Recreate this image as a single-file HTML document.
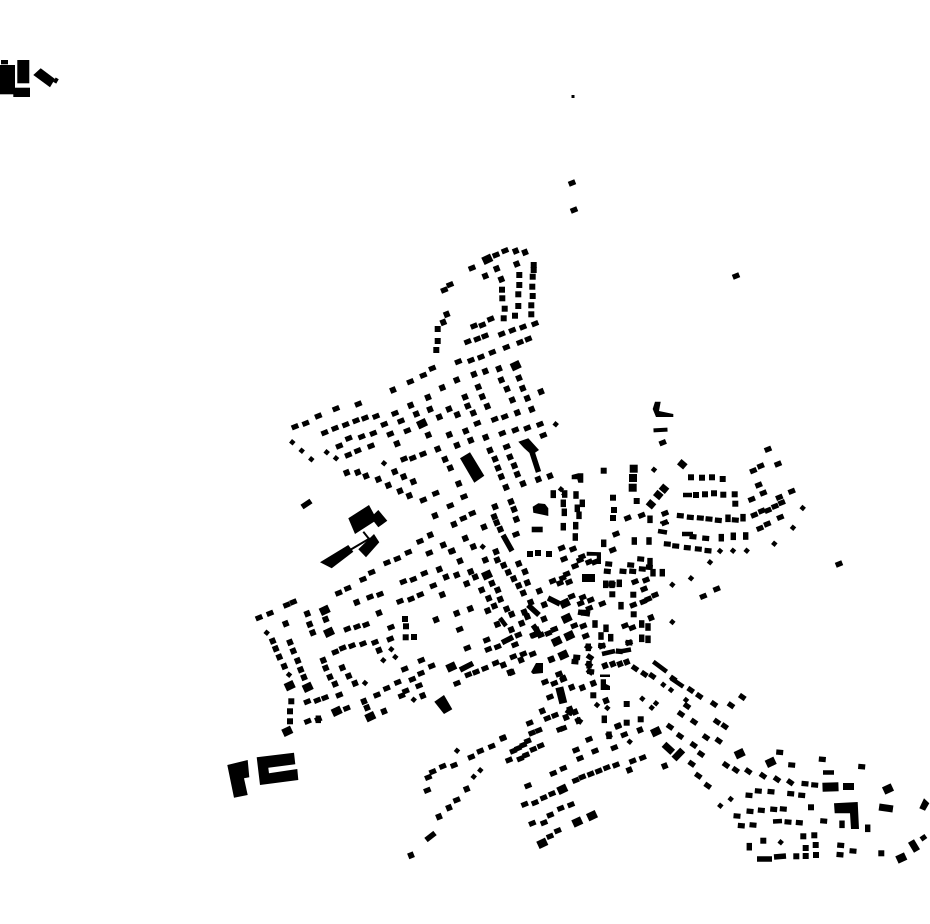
<!DOCTYPE html>
<html><head><meta charset="utf-8"><style>html,body{margin:0;padding:0;background:#fff}svg{display:block}polyline{fill:none;stroke:none}</style></head><body>
<svg width="930" height="924" viewBox="0 0 930 924" xmlns="http://www.w3.org/2000/svg">
<defs>
<marker id="a" orient="-22" markerUnits="userSpaceOnUse" markerWidth="12" markerHeight="12" refX="6" refY="6" overflow="visible"><rect x="2.5" y="3.4" width="7" height="5.2"/></marker>
<marker id="c" orient="-22" markerUnits="userSpaceOnUse" markerWidth="12" markerHeight="12" refX="6" refY="6" overflow="visible"><rect x="3" y="3" width="6" height="6"/></marker>
<marker id="s" orient="40" markerUnits="userSpaceOnUse" markerWidth="12" markerHeight="12" refX="6" refY="6" overflow="visible"><rect x="3.7" y="3.7" width="4.6" height="4.6"/></marker>
<marker id="b" orient="35" markerUnits="userSpaceOnUse" markerWidth="12" markerHeight="12" refX="6" refY="6" overflow="visible"><rect x="2.5" y="3.4" width="7" height="5.2"/></marker>
<marker id="e" orient="5" markerUnits="userSpaceOnUse" markerWidth="12" markerHeight="12" refX="6" refY="6" overflow="visible"><rect x="2.5" y="3.4" width="7" height="5.2"/></marker>
<marker id="v" orient="0" markerUnits="userSpaceOnUse" markerWidth="12" markerHeight="12" refX="6" refY="6" overflow="visible"><rect x="3.3" y="2.2" width="5.4" height="7.6"/></marker>
<marker id="q" orient="0" markerUnits="userSpaceOnUse" markerWidth="12" markerHeight="12" refX="6" refY="6" overflow="visible"><rect x="3" y="3" width="6" height="6"/></marker>
<marker id="l" orient="-25" markerUnits="userSpaceOnUse" markerWidth="16" markerHeight="16" refX="8" refY="8" overflow="visible"><rect x="3.2" y="4" width="9.6" height="8"/></marker>
<marker id="k" orient="40" markerUnits="userSpaceOnUse" markerWidth="16" markerHeight="16" refX="8" refY="8" overflow="visible"><rect x="4" y="4.5" width="8" height="7"/></marker>
<marker id="m" orient="0" markerUnits="userSpaceOnUse" markerWidth="16" markerHeight="16" refX="8" refY="8" overflow="visible"><rect x="4" y="4" width="8" height="8"/></marker>
</defs>

<polyline marker-start="url(#q)" marker-mid="url(#q)" marker-end="url(#q)" points="533.7,265 533.7,270 519.3,275 532.7,276.7 519.3,285 532.3,286.7 502,289.7 518.3,294.3 532.7,296 502.3,298.3 518.3,306 531.3,305.3 504.7,308.7 515,315.7 531.3,314.3 503.7,318.3 437.7,341 436.3,350 437.7,329 291.3,701.3 290,711.3 290,721.3 405,619 406,626.3 405.7,637.3 414,637 613,497.7 614,510 613,518 636.7,501 603.7,470.7 612.3,594.3 633.3,594.7 633.7,614.3 584,612.7 691,477.3 702,477.7 712,477.3 722.7,479 696,495 705,494.3 714,493.3 723.3,494.7 734.7,494.3 735.3,503.7 626.7,704 626.7,722.7 640.7,719.3 593.3,695.3 881.3,853.3 805.7,856 816,855 796.3,856.3 805.7,848 815.7,845 803.3,836.3 814.3,835.3 763.3,840.7 811,807.3 530,554 538,553 549,554"/>

<polyline marker-start="url(#a)" marker-mid="url(#a)" marker-end="url(#a)" points="472,268 487,259 496,255 505,250.7 450,284.7 444.3,290 432.3,368.3 423.3,375.3 410.3,381.7 458.3,361.7 471,360.3 481,357 492.3,352.3 506.3,347.3 520,342.3 528.3,339 512.3,330.3 501.7,334 485,336 477.3,339 467.7,341.7 535,323.7 523,327 490.7,319 482.3,325 474,326 358.3,404 336,408.7 318.3,416 305.7,423.3 295,426.7 376,416.3 365,418 356,420.7 345.7,424.7 335,428.3 324.7,432.7 384.3,424.3 373.3,433.3 390.3,434 361.7,436.7 348.7,438.3 339.3,446 371,446 357.7,450.7 348.3,455 412.7,458 423,454 404,459 407.3,430.7 401,421 395,413.3 540,424.3 527.3,428 515.3,430 502.3,433.3 477.3,423.3 504.7,416.7 494.7,419.3 543.3,435.3 506.7,446.7 464,496.7 450.3,505.7 435.7,493.3 423.3,500 472.3,513.3 463.3,518.3 516,534.3 420,541.3 429.3,553 408.3,552.3 397.3,558.7 387,562.7 371.7,572.3 363,579.3 347.7,588.3 338.7,593 413.3,579.3 403.3,581.7 424.3,573.3 433.3,585.7 420.3,594.7 411,599 400,601.3 370,597 380,594.3 293.3,602 286.7,605 259,617.7 270,613.3 347.3,629 357,626.7 366,624.7 391,627.3 390.3,639 459.7,629.3 335.3,652 342.7,648 352,645.7 363,643.7 375,642.3 325,697.7 317.3,700.3 307.3,701.7 307.7,721.3 318.3,719.3 336.7,711.3 346.7,708.3 339.3,695 377,695 386.7,688.3 397.7,682.3 412.3,679.3 421,673.3 431.7,666 404.7,669 421.3,660.3 419,685.7 405.7,691 401.7,695.7 457,683.3 468.3,674.7 476,672 485,668.3 495.7,663 467.3,648 513.3,656.7 523.3,654 532.7,654 548.3,633.3 554.3,629.3 540.7,635 533.3,635 518.3,635 515,644.7 486.7,640 488.3,649.3 497.7,646.7 559,674 545,682 554.3,683.3 563.3,679.3 550,697 555,715.3 547.3,718.3 529.7,723 532,733 538.7,730.3 560,729.3 563.3,728.3 527.7,741 523.3,745 518,748.3 513.3,751 540.7,745.7 533.3,749.3 526,755 520.3,758.7 509,760 503,738 491.7,746.3 480.3,751 471.3,757 454,765.3 442.7,766.3 432.7,771.7 428.3,777.3 427.3,790.3 456.7,800 589,739.3 576,750 595,751 580,758.3 618,726 624.3,734.7 614.3,747.7 642.7,757.7 632.7,761 616,765 606.7,767.7 598.7,771 590.7,774 582.3,777 575.7,780.3 563.3,768.3 553.3,773.3 528,785.7 552,793.7 543.7,797.7 535,802.7 524.7,804.3 571,804.7 560.7,808.3 550.3,815 557.7,830.7 550,836.3 532.3,823.3 544,822.7 633.3,605 643.3,601.7 648.3,599 655,595 644,589 646,580 635,581.7 589.3,608.3 580.7,603.3 582.7,597.3 590.7,600 571.7,596.3 602.3,603.7 583.3,626 574.3,625.7 585.7,636 554.3,629.3 625,625.7 632.3,627.7 616,534 662.7,442.7 664.7,522.7 665,513.3 641.7,515.3 627.7,518 612.7,550 753.3,470.7 760.7,466 778,464 751.7,499.3 791.7,491.3 779.3,497.3 781.7,502.7 775,506.3 768,510.3 761.7,511 754.3,515 780.3,517.3 767.3,524 760,528.3 716.7,589 703.3,596.3 763.3,493 758.7,485 768,449.3 451.7,551 602,646 629,642.7 574,210 572,183 736,276 839,564 561.7,548 573,549 564,559 575,566 582,556.7 580,560 589,562 595,562 566.7,574 562.7,578 569,582 560,583 552.7,581"/>

<polyline marker-start="url(#c)" marker-mid="url(#c)" marker-end="url(#c)" points="516.7,264 496.7,268.7 485.3,276 501.3,279.3 515.7,251 525,252.3 446.7,314.3 443.3,322.3 499,368.7 485.3,371.3 474,374.3 456.7,380 442.3,387.7 393,390 501.3,380 519,378 478.3,387 507,389 522.7,388.3 541,391.7 465,397 482.3,396.7 428,397.3 512.3,400 527.3,398.3 467.7,406 487.3,406.3 410.7,405.3 430,409.3 449,409 531.7,409.3 517.3,412.7 473.3,413 457.3,414.7 439.3,417 416.3,414 422,423.7 465.7,431 449.3,434.7 428.3,435 485.7,437.3 470.7,440.3 457,445.3 397,443.7 437.7,449 490,450.3 445,459.3 495,459 510,457 450.3,468 498,468 514.3,465.7 346.7,472.7 357.7,472.3 366,476 378.3,479.3 388.3,485.3 400,491 409.3,495.7 394.7,471.7 403.7,476.7 413.3,481.7 501.3,476.7 506,487.3 517.3,474.3 523,483.7 538.3,479.3 550,476 458.7,483.7 511,501.7 514,509.3 516.3,519.3 495,506.7 494.3,516.7 454,524.3 435,515.7 484,527 496.7,522.7 500.3,529.3 465.3,538.3 430.3,535 443.3,545 473.3,546.7 452.3,551 439.3,569.3 446,577 456.7,575 460,561 442.3,594.7 356.7,602.3 285.7,623.7 307.3,613.7 325.7,619.3 309.7,624.3 312.7,632.7 379,613 456.7,613.3 470.3,608.7 436,619.7 272.7,641 275.7,648.7 279.3,657 284.3,666.3 290,642.3 293.3,651 297.7,660.7 300.7,669.7 304,677.3 323.3,660.3 325.7,668 330,677 335,684 342.3,667.7 348.7,676 355,683.3 379,650.3 364,701.3 367,707.7 384,711.3 422.7,695.7 511.7,672.3 503.3,665 510,672.3 521,660 544.3,604.7 551.7,659.3 551,659.3 563.3,678.3 571.7,687.3 582.3,687.7 606,700.7 618,726 609,735.3 570,709.3 575,712 578.3,720.7 566,717.3 542.3,711 503,738 466.7,789 449,807.7 439,816.7 411,855.3 629.3,770 664.7,766 640,730 593.3,683.3 605,665.7 612.7,664 620,664 626.7,662 651,617.7 530.7,602.3 524.3,612 527.3,616.7 521.7,623.3 511.3,629.7 497.3,624.3 506.7,609 511.7,614.3 494.3,606 487.7,610.7 500.3,599.3 488.7,598.3 481.7,590 497.7,590 466.7,583.7 492,583.3 518.7,585.7 523.3,593 539.3,591 513.7,578.7 527.3,582.7 508.3,572.3 525,571.7 503.7,565.3 518.7,563.7 485.3,560 497.3,560 496,551.7 470.7,571.7 475.3,577 544,619 536.7,630 534,635"/>

<polyline marker-start="url(#s)" marker-mid="url(#s)" marker-end="url(#s)" points="292.3,442.3 301.7,450.7 311.3,459.3 326.7,452.3 336,458.3 384,463.3 555.7,424.3 561,489.3 564.3,494.3 465.3,538.3 482.7,546.7 266.7,632.7 289,674.7 365,683 395.3,657 391.3,649.3 383.3,660.3 413.7,699.7 422.7,695.7 485.3,560 457,750.7 473.7,776.7 480.3,770.3 663.3,684.7 671,690 651.7,707.7 656,703.3 642.3,698.7 686,700 597,705 607.3,708 629.7,741.7 672.3,622 672.3,584.7 654,469.7 691,578.3 710,562.3 802.7,508 793,527.7 774.3,543.7 720.3,805.7 730.7,799 780.7,842.3 720,551 733,550.7 746.7,550.7"/>
<rect x="571.5" y="95" width="3" height="3"/>

<polyline marker-start="url(#b)" marker-mid="url(#b)" marker-end="url(#b)" points="644.3,674 652.3,676 673.3,678.7 690.7,690 699.3,696 714,704 731,705.3 742.3,697 687,706 681,714 694,721.7 717,721.7 724.7,726.3 680,736 706,737.3 718.7,740.7 693.7,745 701,754 691.7,763.7 698.3,775.7 707.7,785.7 726,765 735.7,770 748.3,771.3 763,775.7 777,779.3 790.3,782.3 670,726.7 635,668.3 579,720.7 570,712 589,664.7 590,671.7 590,657.3 588.3,647.3 569,712"/>

<polyline marker-start="url(#e)" marker-mid="url(#e)" marker-end="url(#e)" points="680.3,515.7 690.3,517.3 700.3,518 709,519 718.3,520.3 735.3,520 693,536.7 705.7,538.3 667.3,544 675.7,546 687.3,547.7 698.3,549 708,550.7 805,783.7 814.7,785 749,795.3 758.3,791 771,791.7 790.7,793.7 801.7,795.3 737,816 750,811.3 761.3,810.3 773.7,809.3 783.3,809 741.3,825.7 753,825 788,822 799.3,822.7 823.7,821 840.7,845.3 840,854.7 853,851 770.7,762.3 779.7,752.3 791.7,765 822.3,759.3 861.7,766.7 608.7,564 607.3,571.3 640.7,559 630.7,565 642.3,569 649.3,567.3 632.7,571.3 623,571.3 619.3,651.3 601.7,645.7 629,642.7 576.7,657.3 575,661.7 590.7,671.7 612,584.3"/>

<polyline marker-start="url(#v)" marker-mid="url(#v)" marker-end="url(#v)" points="553.3,494.3 576,495 564.7,494 563.3,503.3 564.3,512.3 579,515.3 575.3,537 575.7,525.7 582.3,503.3 577.3,508.3 650,519.3 603.7,543.3 634.3,541 649,541 728,518.3 743,517.7 721.3,537.7 733.3,536.3 745.7,536 605.7,584.3 612,584.3 619.3,583.3 662.3,572.7 653,572.7 650,561.7 621,605.7 595,624 606,628.3 641.7,624 648,627 610.7,637.7 641.7,638.3 648,639.3 601,636 588.3,647.3 749.3,846.7 842,824.3 867.7,828.3 553.3,494 563.3,526.7 589,664.7 318.3,719.3 604.3,719.3 609,735.3"/>

<polyline marker-start="url(#l)" marker-mid="url(#l)" marker-end="url(#l)" points="487.3,259.3 515.7,365.7 289.7,685.7 287.3,731.3 307.7,687.3 329,632.3 324.7,610.3 370.3,716.7 336.7,711.3 451.3,667 563.3,655 556.7,641.3 569.3,635.7 565,603.3 566.7,618.3 656,731.7 562.3,789.3 592,815.7 577.3,822 542.3,843.3 487,575 422,423.7 739.7,753.7 770.7,762.3 888,789 901.3,858"/>

<polyline marker-start="url(#k)" marker-mid="url(#k)" marker-end="url(#k)" points="682.3,464.3 664,488.7 658.3,495 651,504.3"/>
<polyline marker-start="url(#m)" marker-mid="url(#m)" marker-end="url(#m)" points="633.7,468.7 633,478 632.7,487.7"/>

<g fill="#000">
<rect x="0" y="65" width="15" height="29.3"/><rect x="1" y="60" width="7" height="4.3"/><rect x="17.3" y="60" width="12" height="23.3"/><rect x="13.3" y="87.7" width="16.7" height="9.3"/>
<polygon points="33.3,75 40.7,68.3 55,79 50,87.3"/><rect x="54.5" y="78" width="3.5" height="5" transform="rotate(30 56 80)"/>
<polygon points="227.3,765 247.7,760 249.3,777.3 244,778.3 247.7,795 234,797.7"/>
<polygon points="256.7,757.3 294,752.7 295.3,764.3 268.3,767.7 269,773.3 297.3,769 298.3,780 260,785"/>
<polygon points="460,458.3 470,452.3 484.3,475.7 474.3,482.7"/>
<polygon points="518.3,441.7 528.3,438.3 539,450 531.7,455 524,448"/>
<polygon points="348.3,518.3 369,505 374,514.3 378.3,510 387.3,520.7 378.3,527.3 374,521.7 355,534"/>
<polygon points="320,562.3 348.3,545 353.3,551.7 331.7,568.3"/>
<polygon points="358.3,549.3 374,534 379.3,542.3 366,557.3"/>
<polygon points="532.7,506.7 538.3,503.3 545,504 548.3,508.3 548.3,516 544,515 533.3,512.7"/>
<rect x="531.7" y="526.7" width="11" height="5.6"/>
<polygon points="434.3,701.7 444,695 452.3,709.3 444,714"/>
<polygon points="531,672 536,663 543,663 543,673 533,674"/>
<polygon points="834,803.3 857.7,802 859,829 851,829 850,813.3 834.7,813.3"/>
<rect x="822.5" y="782.5" width="16" height="9" transform="rotate(-2 830 787)"/>
<rect x="843" y="783" width="11" height="7"/>
<rect x="879" y="804.5" width="14" height="7" transform="rotate(8 886 808)"/>
<polygon points="919.3,808.3 924,798.3 929.3,803.3 925,810.7"/>
<polygon points="655,401.7 660.7,401.7 659,411 673.3,414 673.3,417 656,417 652.7,409"/>
<rect x="653.5" y="428" width="14" height="4" transform="rotate(-3 660 430)"/>
<polygon points="571.7,475 578.3,473.3 583.3,473.3 583.3,482.7 578.3,482.7 577.3,479.3 571.7,479.3"/>
<polygon points="586.7,551.7 601,552.3 601,564 597.3,564 596.7,555.7 586.7,555.7"/>
<rect x="582" y="574" width="13" height="8"/>
<polygon points="600.7,679.3 606,679.3 606,684 610,686 610,690 600.7,690"/>
<rect x="600" y="674.5" width="10" height="2.5"/>
<rect x="920.5" y="835.5" width="6" height="5" transform="rotate(-35 923 838)"/>
</g>

<g fill="none" stroke="#000">
<path stroke-width="8" d="M559.3 687.3L563.3 703.3"/>
<path stroke-width="7" d="M664 744.3L672.7 752.3M682.7 750L674 759M911 841L917 851"/>
<path stroke-width="5.5" d="M532 452L538.5 472M503 535L512 551M302 507L311 501M528 605L539 615M533 625L540 635M502 642.7L513 637M430 840L435 833M426 840L435 833M660 670 L473 663.3" opacity="1" style="display:none"/>
<path stroke-width="5.5" d="M532 452L538.5 472M503 535L512 551M302 507L311 501M528 605L539 615M533 625L540 635M502 642.7L513 637M426 840L435 833M460 670L473 663.3M548 598L560 604M578 612L590 614M757 859h15M774 857l12 -1"/>
<path stroke-width="4.5" d="M500 618L506 626M653.3 661.7L666.7 671.7M671 678.3L683.3 686.7M602 654L615 651M620 651.5L631 649.5M682 534h11M658 531l9 1.500M823 772.500h11M683 495h9M773 821.500l9 -.5"/>
<path stroke-width="2" d="M350 550L370 538.300M363.300 531.700L369.300 539.300M660 522.500l9 .800"/>
</g>
</svg>
</body></html>
